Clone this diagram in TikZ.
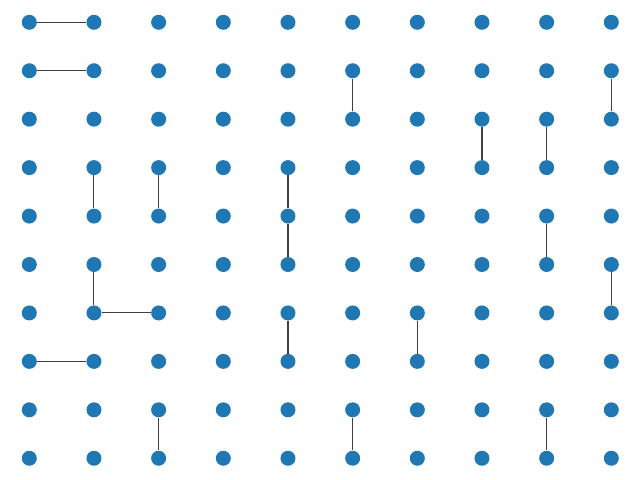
\documentclass[tikz,border=0pt]{standalone}
\usepackage{tikz}
\usepackage{xcolor}
\definecolor{dotblue}{HTML}{1F77B4}
\definecolor{edgegray}{HTML}{404040}

\begin{document}
\begin{tikzpicture}[x=0.025cm, y=-0.025cm,
		dot/.style={circle, fill=dotblue, inner sep=0, minimum size=0.375cm},
		link/.style={draw=edgegray, line width=0.75pt}]
				\useasboundingbox (0, 0) rectangle (640, 480);
				% \draw [step=64.67, gray, very thin] (0, 0) grid (640, 480);
				\foreach \i in {0,...,9} {
					\foreach \j in {0,...,9} {
						\node [dot] (n-\i-\j) at ({29.3 + 64.67*\i}, {22.3 + 48.44*\j}) {};
					}
				}
				\foreach \a/\b in {0-0/1-0, 0-1/1-1, 5-1/5-2, 9-1/9-2, 7-2/7-3, 8-2/8-3,
						1-3/1-4, 2-3/2-4, 4-3/4-4, 4-4/4-5, 8-4/8-5, 1-5/1-6, 1-6/2-6,
						9-5/9-6, 4-6/4-7, 6-6/6-7, 0-7/1-7, 2-8/2-9, 5-8/5-9, 8-8/8-9}
					\draw [link] (n-\a) -- (n-\b);
			\end{tikzpicture}
\end{document}
